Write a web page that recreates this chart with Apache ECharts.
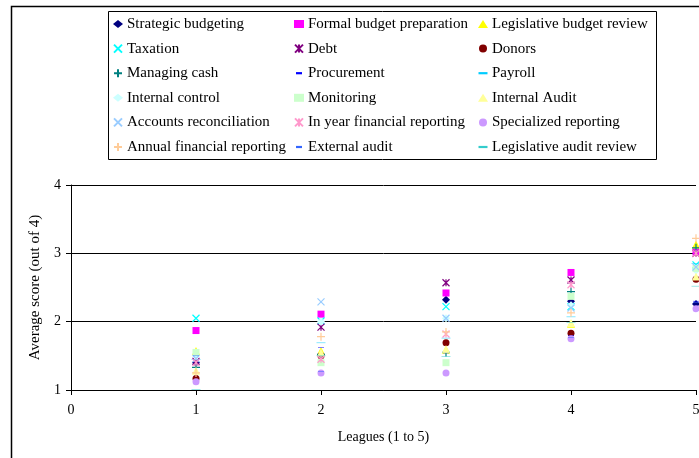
<!DOCTYPE html>
<html><head><meta charset="utf-8">
<script src="https://cdn.jsdelivr.net/npm/echarts@6/dist/echarts.min.js"></script>
<style>html,body{margin:0;padding:0;background:#fff}#c{width:699px;height:458px}</style>
</head><body><div id="c"></div>
<script>
const leagues = [1, 2, 3, 4, 5];
const seriesNames = ['Strategic budgeting','Formal budget preparation','Legislative budget review','Taxation','Debt','Donors','Managing cash','Procurement','Payroll','Internal control','Monitoring','Internal Audit','Accounts reconciliation','In year financial reporting','Specialized reporting','Annual financial reporting','External audit','Legislative audit review'];
const strategicBudgeting = [1.40, 1.52, 2.32, 2.30, 2.26];
const formalBudget = [1.87, 2.11, 2.42, 2.72, 3.02];
const legislativeBudget = [1.57, 1.57, 1.59, 1.97, 3.13];
const taxation = [2.05, 2.01, 2.22, 2.22, 2.83];
const debt = [1.42, 1.92, 2.57, 2.61, 3.00];
const donors = [1.17, 1.50, 1.69, 1.83, 2.62];
const managingCash = [1.33, 1.52, 1.55, 2.44, 3.08];
const procurement = [1.52, 1.62, 2.02, 1.80, 2.30];
const payroll = [1.45, 1.69, 1.76, 2.07, 2.85];
const internalControl = [1.50, 2.00, 2.05, 2.24, 2.75];
const monitoring = [1.55, 1.40, 1.40, 2.37, 2.78];
const internalAudit = [1.28, 1.55, 1.60, 1.98, 2.66];
const accountsRecon = [1.46, 2.29, 2.05, 2.20, 2.80];
const inYear = [1.40, 1.45, 1.82, 2.54, 3.00];
const specialized = [1.12, 1.25, 1.25, 1.75, 2.19];
const annual = [1.25, 1.78, 1.85, 2.13, 3.22];
const externalAudit = [1.50, 1.27, 1.54, 1.77, 2.28];
const legislativeAudit = [1.01, 1.50, 1.49, 1.99, 2.52];
const allValues = [strategicBudgeting, formalBudget, legislativeBudget, taxation, debt, donors, managingCash, procurement, payroll, internalControl, monitoring, internalAudit, accountsRecon, inYear, specialized, annual, externalAudit, legislativeAudit];
const yTicks = [1, 2, 3, 4];
const xTicks = [0, 1, 2, 3, 4, 5];

const X = 'path://M0,0L10,10M10,0L0,10';
const STAR = 'path://M0,0L10,10M10,0L0,10M5,0L5,10';
const PLUS = 'path://M5,0L5,10M0,5L10,5';
const SDASH = 'path://M0,0M10,0M2,0L8,0L8,2.2L2,2.2Z';
const LDASH = 'path://M0,0M10,0M0.5,0L9.5,0L9.5,2.2L0.5,2.2Z';
const styles = [
  ['#000080','diamond',8,false],
  ['#FF00FF','rect',7,false],
  ['#FFFF00','triangle',8,false],
  ['#00FFFF',X,7,true],
  ['#800080',STAR,7,true],
  ['#800000','circle',7,false],
  ['#008080',PLUS,8,true],
  ['#0000FF',SDASH,[10,2.2],false],
  ['#00CCFF',LDASH,[10,2.2],false],
  ['#CCFFFF','diamond',8,false],
  ['#CCFFCC','rect',7,false],
  ['#FFFF99','triangle',8,false],
  ['#99CCFF',X,7,true],
  ['#FF99CC',STAR,7,true],
  ['#CC99FF','circle',7,false],
  ['#FFCC99',PLUS,8,true],
  ['#3366FF',SDASH,[10,2.2],false],
  ['#33CCCC',LDASH,[10,2.2],false]
];

const series = seriesNames.map((n, i) => {
  const [c, sym, sz, stroke] = styles[i];
  return {
    name: n, type: 'scatter', symbol: sym, symbolSize: sz, symbolKeepAspect: true,
    data: leagues.map((x, j) => [x, allValues[i][j]]),
    itemStyle: stroke ? {color: c, borderColor: c, borderWidth: 1.2, opacity: 1} : {color: c, opacity: 1},
    emphasis: {disabled: true}, animation: false
  };
});

const font = 'Liberation Serif';
const legendBase = {
  orient: 'vertical', top: 16.5, padding: 0, itemWidth: 10, itemHeight: 8, itemGap: 9.6,
  textStyle: {fontFamily: font, fontSize: 15, color: '#000', padding: [0,0,0,-1]},
  selectedMode: false
};
const col = k => seriesNames.filter((_, i) => i % 3 === k);

const chart = echarts.init(document.getElementById('c'), null, {renderer: 'canvas'});
chart.setOption({
  animation: false,
  backgroundColor: '#fff',
  graphic: [
    {type: 'rect', shape: {x: 11.5, y: 6.5, width: 800, height: 600}, style: {fill: 'none', stroke: '#000', lineWidth: 1.5}, z: 0},
    {type: 'rect', shape: {x: 108.5, y: 11.5, width: 548, height: 148}, style: {fill: '#fff', stroke: '#000', lineWidth: 1}, z: 0}
  ],
  legend: [
    Object.assign({}, legendBase, {left: 113, data: col(0)}),
    Object.assign({}, legendBase, {left: 294, data: col(1)}),
    Object.assign({}, legendBase, {left: 478, data: col(2)})
  ],
  grid: {left: 71, top: 185, width: 625, height: 205, outerBoundsMode: 'none', containLabel: false},
  xAxis: {
    type: 'value', min: 0, max: 5, interval: 1,
    name: 'Leagues (1 to 5)', nameLocation: 'middle', nameGap: 40,
    nameTextStyle: {fontFamily: font, fontSize: 14, color: '#000'},
    axisLine: {show: true, onZero: false, lineStyle: {color: '#000', width: 1}},
    axisTick: {show: true, length: 5, lineStyle: {color: '#000'}},
    axisLabel: {fontFamily: font, fontSize: 14, color: '#000', margin: 13, formatter: v => xTicks.includes(v) ? String(v) : ''},
    splitLine: {show: false}
  },
  yAxis: {
    type: 'value', min: 1, max: 4, interval: 1,
    name: 'Average score (out of 4)', nameLocation: 'middle', nameGap: 28, nameRotate: 90,
    nameTextStyle: {fontFamily: font, fontSize: 15, color: '#000'},
    axisLine: {show: true, onZero: false, lineStyle: {color: '#000', width: 1}},
    axisTick: {show: true, length: 5, lineStyle: {color: '#000'}},
    axisLabel: {fontFamily: font, fontSize: 14, color: '#000', margin: 10, formatter: v => yTicks.includes(v) ? String(v) : ''},
    splitLine: {show: true, lineStyle: {color: '#000', width: 1}}
  },
  series: series
});
</script></body></html>
